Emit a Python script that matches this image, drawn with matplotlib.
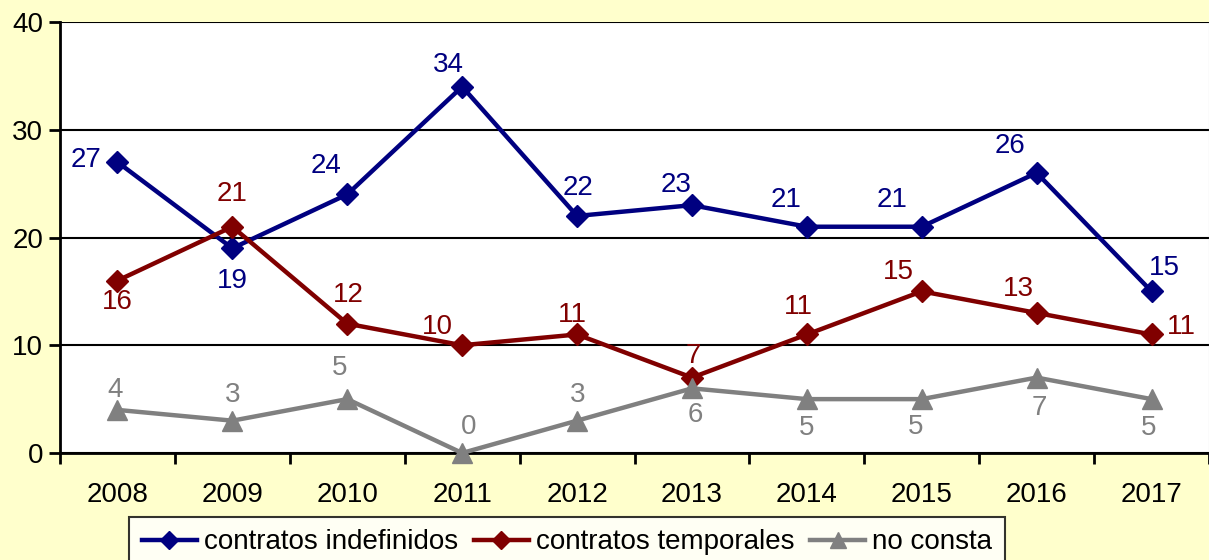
import matplotlib
matplotlib.use('Agg')
from matplotlib import pyplot as plt
from matplotlib.ticker import FixedLocator

plt.rcParams['font.family'] = ['Liberation Sans', 'DejaVu Sans']

years = ['2008', '2009', '2010', '2011', '2012', '2013', '2014', '2015', '2016', '2017']
indefinidos = [27, 19, 24, 34, 22, 23, 21, 21, 26, 15]
temporales = [16, 21, 12, 10, 11, 7, 11, 15, 13, 11]
no_consta = [4, 3, 5, 0, 3, 6, 5, 5, 7, 5]

# label offsets in pixels (dx, dy)
off_ind = [(-31, 2), (0, -33), (-21, 28), (-14, 22), (1, 28), (-16, 20), (-21, 27), (-30, 27), (-27, 27), (13, 23)]
off_tem = [(0, -21), (0, 33), (1, 29), (-25, 18), (-5, 19), (1, 22), (-8, 27), (-23, 19), (-18, 24), (30, 7)]
off_noc = [(-2, 20), (0, 26), (-8, 31), (6, 26), (1, 26), (3, -27), (0, -29), (-6, -28), (3, -30), (-3, -29)]

blue = '#000080'
red = '#800000'
gray = '#808080'
fs = 20

fig = plt.figure(figsize=(12.09, 5.6), dpi=100, facecolor='#FFFFCC')
ax = fig.add_axes([60 / 1209, 107 / 560, 1 - 60 / 1209, 431 / 560])
ax.set_facecolor('white')

x = list(range(len(years)))
series = [
    (indefinidos, blue, 'D', 11, 'contratos indefinidos', off_ind),
    (temporales, red, 'D', 11, 'contratos temporales', off_tem),
    (no_consta, gray, '^', 14, 'no consta', off_noc),
]
for values, color, marker, ms, label, offs in series:
    ax.plot(x, values, color=color, marker=marker, markersize=ms, linewidth=3.2,
            label=label, clip_on=False, zorder=3)
    for xi, v, (dx, dy) in zip(x, values, offs):
        ax.annotate(str(v), (xi, v), xytext=(dx, dy), textcoords='offset pixels',
                    ha='center', va='center', color=color, fontsize=fs, zorder=4)

ax.set_xlim(-0.5, len(years) - 0.5)
ax.set_ylim(0, 40)
ax.set_yticks(range(0, 41, 10))
ax.grid(axis='y', color='black', linewidth=1.5)
ax.set_axisbelow(True)

ax.set_xticks(x)
ax.set_xticklabels(years)
ax.xaxis.set_minor_locator(FixedLocator([i + 0.5 for i in range(-1, len(years))]))
ax.tick_params(axis='x', which='major', length=0, pad=21, labelsize=fs)
ax.tick_params(axis='x', which='minor', length=8, width=2, direction='out')
ax.tick_params(axis='y', length=8, width=2, direction='out', pad=4, labelsize=fs)

for side in ['left', 'bottom']:
    ax.spines[side].set_linewidth(2)
ax.spines['top'].set_visible(False)
ax.spines['right'].set_color('#bbbbbb')

leg = fig.legend(loc='upper center', bbox_to_anchor=(0.469, 0.077), ncol=3,
                 fontsize=fs, frameon=True, fancybox=False, edgecolor='black',
                 handlelength=2.0, handletextpad=0.25, columnspacing=0.55,
                 borderpad=0.45, borderaxespad=0, markerscale=0.8)
leg.get_frame().set_linewidth(1.5)

fig.savefig('out.png', dpi=100, facecolor=fig.get_facecolor())
